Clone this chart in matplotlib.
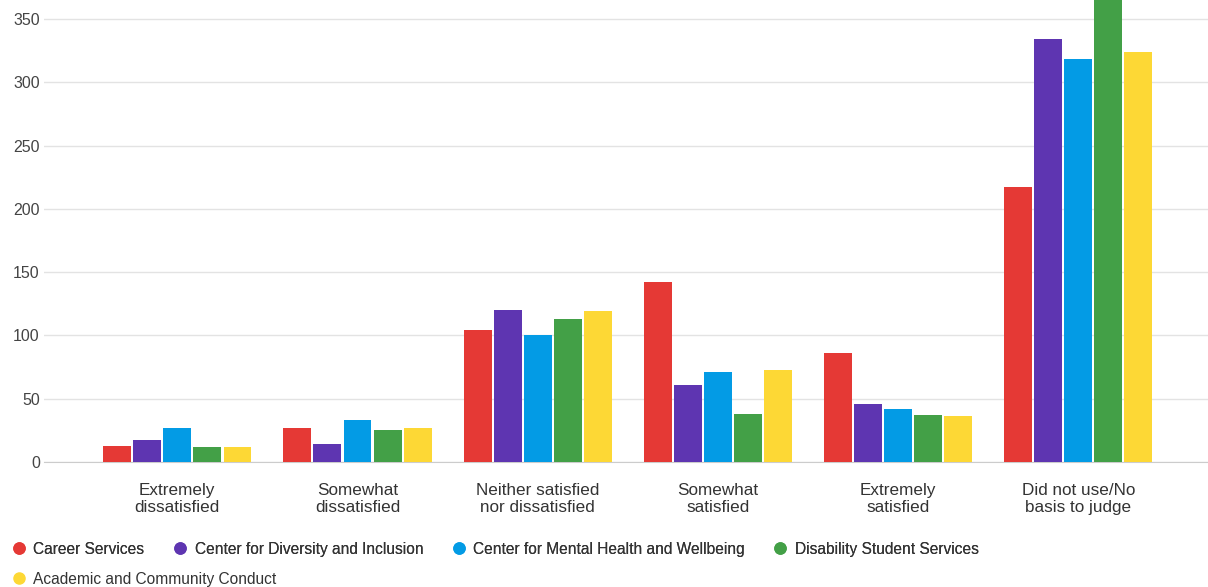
import matplotlib
matplotlib.use("Agg")
import matplotlib.pyplot as plt
from matplotlib.lines import Line2D
import numpy as np

plt.rcParams['font.family'] = ['Liberation Sans', 'DejaVu Sans']

categories = ["Extremely\ndissatisfied", "Somewhat\ndissatisfied", "Neither satisfied\nnor dissatisfied",
              "Somewhat\nsatisfied", "Extremely\nsatisfied", "Did not use/No\nbasis to judge"]
series = ["Career Services", "Center for Diversity and Inclusion",
          "Center for Mental Health and Wellbeing", "Disability Student Services",
          "Academic and Community Conduct"]
career = [13, 27, 104, 142, 86, 217]
diversity = [17, 14, 120, 61, 46, 334]
mental = [27, 33, 100, 71, 42, 318]
disability = [12, 25, 113, 38, 37, 380]
conduct = [12, 27, 119, 73, 36, 324]
values = [career, diversity, mental, disability, conduct]
colors = ["#e53935", "#5e35b1", "#039be5", "#43a047", "#fdd835"]

fig = plt.figure(figsize=(12.08, 5.87), dpi=100)
ax = fig.add_axes([0.0364, 0.213, 0.9636, 0.787])

x = np.arange(len(categories))
w = 0.167
for i, (vals, c) in enumerate(zip(values, colors)):
    ax.bar(x + (i - 2) * w, vals, width=w * 0.93, color=c, label=series[i], zorder=3)

ax.set_xlim(-0.74, 5.72)
ax.set_ylim(0, 365)
ax.set_yticks([0, 50, 100, 150, 200, 250, 300, 350])
ax.grid(axis='y', color='#e3e3e3', linewidth=1, zorder=0)
for s in ['top', 'right', 'left']:
    ax.spines[s].set_visible(False)
ax.spines['bottom'].set_color('#cccccc')
ax.tick_params(axis='y', length=0, colors='#444444', labelsize=11.5, pad=3)
ax.tick_params(axis='x', length=0, pad=15)
ax.set_xticks(x)
ax.set_xticklabels(categories, fontsize=12.3, color='#333333', linespacing=1.2)

mk = [Line2D([], [], marker='o', linestyle='', markersize=8, color=c) for c in colors]
leg1 = fig.legend(mk[:4], series[:4], loc='upper left', bbox_to_anchor=(-0.004, 0.101),
                  ncol=4, frameon=False, fontsize=11.2, handletextpad=0.35, columnspacing=1.68,
                  handlelength=1.2, labelcolor='#333333')
leg2 = fig.legend(mk[4:], series[4:], loc='upper left', bbox_to_anchor=(-0.004, 0.050),
                  frameon=False, fontsize=11.2, handletextpad=0.35, handlelength=1.2,
                  labelcolor='#333333')
fig.add_artist(leg1)

fig.savefig("out.png", dpi=100)
